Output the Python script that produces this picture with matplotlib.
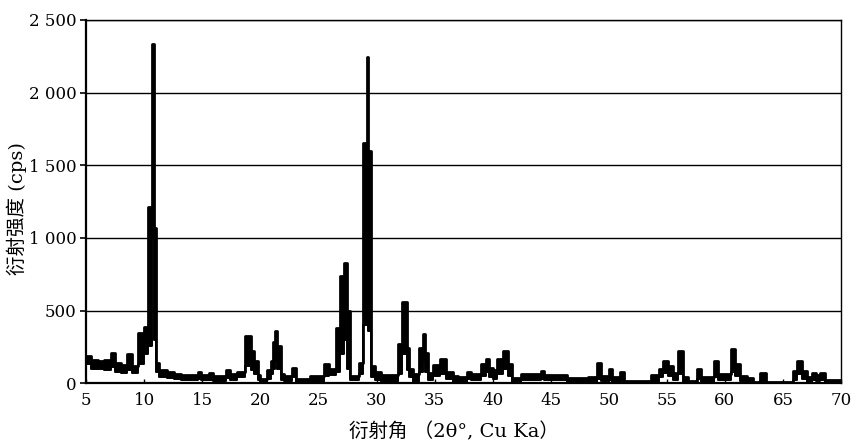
import numpy as np
import matplotlib.pyplot as plt

plt.rcParams['font.family'] = ['DejaVu Serif', 'Noto Sans CJK SC', 'DejaVu Sans']

# step start angles (2theta, deg) with upper / lower envelope of the noisy trace (cps)
angles = [5.0, 5.4, 6.0, 6.5, 7.1, 7.45, 8.0, 8.55, 8.95, 9.5,
          9.95, 10.3, 10.68, 10.82, 11.02, 11.3, 12.0, 12.6, 13.2, 14.6,
          14.85, 15.6, 15.9, 17.05, 17.35, 18.0, 18.7, 19.2, 19.45, 19.8,
          20.0, 20.6, 20.95, 21.1, 21.25, 21.45, 21.8, 22.0, 22.75, 23.1,
          24.3, 25.5, 25.9, 26.5, 26.9, 27.2, 27.5, 27.7, 28.5, 28.8,
          29.15, 29.3, 29.55, 29.9, 30.4, 31.85, 32.2, 32.6, 32.8, 33.1,
          33.7, 34.0, 34.2, 34.4, 34.9, 35.5, 36.0, 36.6, 37.0, 37.8,
          38.1, 39.0, 39.4, 39.7, 40.0, 40.4, 40.9, 41.3, 41.7, 42.4,
          44.15, 44.4, 46.4, 48.2, 49.0, 49.3, 50.05, 50.3, 51.0, 51.3,
          53.6, 54.3, 54.7, 55.1, 55.5, 56.0, 56.4, 56.8, 57.6, 57.9,
          59.05, 59.4, 60.55, 60.9, 61.3, 61.9, 62.4, 63.0, 63.5, 65.9,
          66.2, 66.6, 67.1, 67.5, 67.8, 68.2, 68.6, 70.0]
upper = [186, 160, 150, 160, 207, 138, 125, 200, 120, 345,
         385, 1210, 2335, 1070, 140, 90, 75, 62, 55, 76,
         55, 72, 50, 90, 60, 75, 324, 221, 152, 55,
         28, 90, 150, 280, 360, 255, 62, 50, 103, 28,
         50, 130, 95, 380, 740, 830, 500, 50, 140, 1650,
         2245, 1600, 117, 80, 55, 270, 560, 242, 97, 60,
         242, 338, 207, 69, 125, 165, 75, 50, 41, 80,
         62, 131, 165, 104, 90, 165, 221, 131, 35, 62,
         83, 55, 35, 41, 140, 50, 100, 41, 80, 14,
         55, 97, 152, 117, 69, 221, 41, 14, 97, 41,
         152, 62, 235, 131, 50, 35, 10, 69, 10, 83,
         152, 83, 41, 69, 55, 69, 20, 20]
lower = [135, 97, 100, 90, 110, 76, 70, 90, 72, 130,
         200, 255, 1000, 300, 76, 40, 35, 30, 21, 30,
         20, 25, 15, 35, 25, 40, 120, 90, 60, 20,
         0, 30, 60, 100, 150, 100, 20, 15, 40, 0,
         10, 50, 55, 80, 200, 300, 100, 20, 60, 400,
         1500, 360, 40, 20, 10, 60, 200, 90, 40, 10,
         80, 150, 80, 20, 50, 60, 30, 5, 0, 30,
         20, 50, 80, 40, 30, 60, 100, 50, 0, 20,
         30, 20, 5, 10, 30, 15, 20, 10, 15, 0,
         10, 40, 70, 50, 20, 60, 10, 0, 30, 10,
         40, 20, 80, 50, 15, 10, 0, 15, 0, 20,
         60, 30, 10, 20, 15, 20, 0, 0]

y_ticks = [0, 500, 1000, 1500, 2000, 2500]
y_labels = ['0', '500', '1 000', '1 500', '2 000', '2 500']
x_ticks = [5, 10, 15, 20, 25, 30, 35, 40, 45, 50, 55, 60, 65, 70]

fig = plt.figure(figsize=(8.53, 4.44), dpi=100)
ax = fig.add_axes([0.101, 0.137, 0.885, 0.818])

x = np.array(angles)
hi = np.array(upper)
lo = np.array(lower)
ax.fill_between(x, lo, hi, step='post', color='black', linewidth=0, zorder=3)
ax.step(x, hi, where='post', color='black', lw=2.0, zorder=3)
ax.step(x, lo, where='post', color='black', lw=1.4, zorder=3)

ax.set_xlim(5, 70)
ax.set_ylim(0, 2500)
ax.set_yticks(y_ticks)
ax.set_yticklabels(y_labels)
ax.set_xticks(x_ticks)
ax.yaxis.grid(True, color='black', lw=1.0)
ax.set_axisbelow(True)

for side in ['left', 'bottom']:
    ax.spines[side].set_linewidth(1.6)
for side in ['right', 'top']:
    ax.spines[side].set_linewidth(1.0)

ax.tick_params(axis='y', direction='out', length=4, width=1.2, labelsize=12, pad=3)
ax.tick_params(axis='x', direction='in', length=3, width=1.0, labelsize=12, pad=6)

ax.set_ylabel('衍射强度 (cps)', fontsize=14)
ax.yaxis.set_label_coords(-0.078, 0.48)
ax.set_xlabel('衍射角 （2θ°, Cu Ka）', fontsize=14)
ax.xaxis.set_label_coords(0.487, -0.108)

fig.savefig('out.png', dpi=100)
